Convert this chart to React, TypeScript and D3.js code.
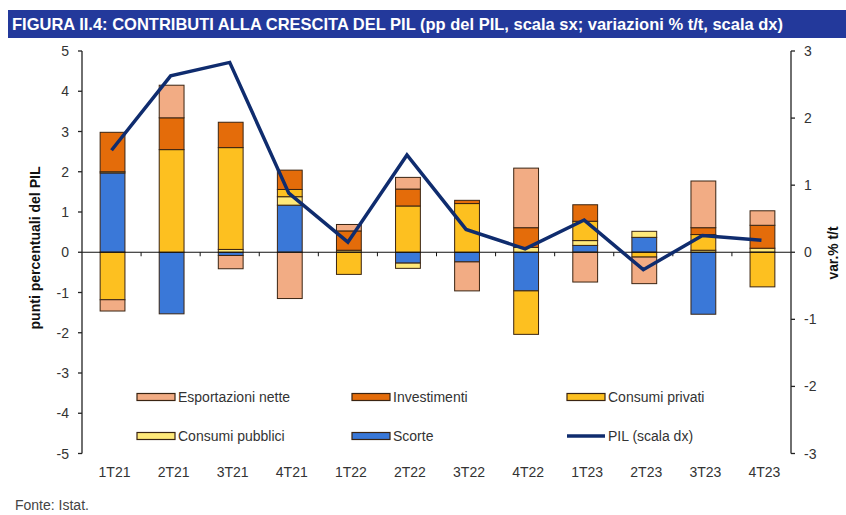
import React from "react";
import * as d3 from "d3";

const categories = ["1T21", "2T21", "3T21", "4T21", "1T22", "2T22", "3T22", "4T22", "1T23", "2T23", "3T23", "4T23"];
const scorte = [1.97, -1.53, -0.08, 1.17, 0.0, -0.27, -0.24, -0.96, 0.17, 0.37, -1.54, 0.0];
const consumiPubblici = [0.03, 0.0, 0.07, 0.21, 0.05, -0.13, 0.0, 0.12, 0.12, 0.15, 0.05, 0.1];
const consumiPrivati = [-1.18, 2.55, 2.53, 0.18, -0.55, 1.15, 1.21, -1.08, 0.48, -0.12, 0.39, -0.86];
const investimenti = [0.98, 0.79, 0.63, 0.48, 0.48, 0.42, 0.08, 0.49, 0.41, 0.0, 0.17, 0.57];
const esportazioniNette = [-0.28, 0.81, -0.33, -1.15, 0.16, 0.29, -0.72, 1.48, -0.74, -0.66, 1.16, 0.36];
const pil = [1.52, 2.63, 2.83, 0.88, 0.15, 1.45, 0.34, 0.05, 0.48, -0.26, 0.25, 0.18];
const leftTicks = [5, 4, 3, 2, 1, 0, -1, -2, -3, -4, -5];
const rightTicks = [3, 2, 1, 0, -1, -2, -3];

const seriesKeys = ["scorte", "pubblici", "privati", "investimenti", "esportazioni"];
const seriesLabels: Record<string, string> = {
  esportazioni: "Esportazioni nette",
  investimenti: "Investimenti",
  privati: "Consumi privati",
  pubblici: "Consumi pubblici",
  scorte: "Scorte",
};
const colors: Record<string, string> = {
  esportazioni: "#F2AC84",
  investimenti: "#E46C0A",
  privati: "#FDC020",
  pubblici: "#FFE97A",
  scorte: "#3A78D8",
};
const pilColor = "#0F2C6E";

const rows = categories.map((c, i) => ({
  cat: c,
  scorte: scorte[i],
  pubblici: consumiPubblici[i],
  privati: consumiPrivati[i],
  investimenti: investimenti[i],
  esportazioni: esportazioniNette[i],
}));

export default function App() {
  const W = 846, H = 515;
  const left = 82, right = 791, top = 51, bottom = 453.5;
  const x = d3.scaleBand<string>().domain(categories).range([left, right]).padding(0);
  const yL = d3.scaleLinear().domain([-5, 5]).range([bottom, top]);
  const yR = d3.scaleLinear().domain([-3, 3]).range([bottom, top]);
  const bw = x.bandwidth();
  const barW = bw * 0.42;
  const stack = d3.stack<any>().keys(seriesKeys).offset(d3.stackOffsetDiverging);
  const stacked = stack(rows as any);
  const line = d3
    .line<number>()
    .x((_, i) => (x(categories[i]) as number) + bw / 2)
    .y((d) => yR(d));
  const y0 = yL(0);
  const font = "'Liberation Sans', Arial, sans-serif";
  const narrow = "'Liberation Sans Narrow', 'Arial Narrow', 'Liberation Sans', Arial, sans-serif";
  const textColor = "#333";

  const legendItems = [
    { key: "esportazioni", col: 0, row: 0 },
    { key: "investimenti", col: 1, row: 0 },
    { key: "privati", col: 2, row: 0 },
    { key: "pubblici", col: 0, row: 1 },
    { key: "scorte", col: 1, row: 1 },
    { key: "pil", col: 2, row: 1 },
  ];
  const legendX = [137, 352, 567];
  const legendY = [397, 436];

  return (
    <svg width={W} height={H} style={{ position: "absolute", left: 0, top: 0, background: "#fff" }}>
      {/* title bar */}
      <rect x={8} y={10} width={W - 8} height={28} fill="#23399B" />
      <text
        x={12}
        y={30}
        fill="#fff"
        fontFamily={narrow}
        fontWeight="bold"
        fontSize={17}
        textLength={771}
        lengthAdjust="spacingAndGlyphs"
      >
        FIGURA II.4: CONTRIBUTI ALLA CRESCITA DEL PIL (pp del PIL, scala sx; variazioni % t/t, scala dx)
      </text>

      {/* bars */}
      {stacked.map((s) => (
        <g key={s.key}>
          {s.map((d, i) => {
            const v = d[1] - d[0];
            if (Math.abs(v) < 1e-9) return null;
            const yt = yL(Math.max(d[0], d[1]));
            const yb = yL(Math.min(d[0], d[1]));
            return (
              <rect
                key={i}
                x={(x(categories[i]) as number) + bw / 2 - barW / 2 + 1}
                y={yt}
                width={barW}
                height={yb - yt}
                fill={colors[s.key]}
                stroke="#3a2412"
                strokeWidth={1}
              />
            );
          })}
        </g>
      ))}

      {/* zero line */}
      <line x1={left} x2={right} y1={y0} y2={y0} stroke="#111" strokeWidth={1.2} />
      {categories.slice(1).map((c) => (
        <line key={c} x1={x(c) as number} x2={x(c) as number} y1={y0} y2={y0 + 4} stroke="#111" strokeWidth={1} />
      ))}

      {/* PIL line */}
      <path d={line(pil) || ""} fill="none" stroke={pilColor} strokeWidth={3.5} strokeLinejoin="miter" />

      {/* left axis */}
      <line x1={left} x2={left} y1={top} y2={bottom} stroke="#222" strokeWidth={1.3} />
      {leftTicks.map((t) => (
        <g key={t}>
          <line x1={left - 4} x2={left} y1={yL(t)} y2={yL(t)} stroke="#222" strokeWidth={1.3} />
          <text x={69} y={yL(t)} dy="0.36em" textAnchor="end" fontFamily={font} fontSize={14} fill={textColor}>
            {t}
          </text>
        </g>
      ))}

      {/* right axis */}
      <line x1={right} x2={right} y1={top} y2={bottom} stroke="#222" strokeWidth={1.3} />
      {rightTicks.map((t) => (
        <g key={t}>
          <line x1={right} x2={right + 4} y1={yR(t)} y2={yR(t)} stroke="#222" strokeWidth={1.3} />
          <text x={804} y={yR(t)} dy="0.36em" textAnchor="start" fontFamily={font} fontSize={14} fill={textColor}>
            {t}
          </text>
        </g>
      ))}

      {/* axis titles */}
      <text
        transform={`translate(40,248) rotate(-90)`}
        textAnchor="middle"
        fontFamily={narrow}
        fontWeight="bold"
        fontSize={14}
        fill="#111"
        textLength={163}
        lengthAdjust="spacingAndGlyphs"
      >
        punti percentuali del PIL
      </text>
      <text
        transform={`translate(838,253) rotate(-90)`}
        textAnchor="middle"
        fontFamily={narrow}
        fontWeight="bold"
        fontSize={14}
        fill="#111"
        textLength={53}
        lengthAdjust="spacingAndGlyphs"
      >
        var.% t/t
      </text>

      {/* x labels */}
      {categories.map((c) => (
        <text
          key={c}
          x={(x(c) as number) + bw / 2 + 3}
          y={477}
          textAnchor="middle"
          fontFamily={font}
          fontSize={14}
          fill={textColor}
        >
          {c}
        </text>
      ))}

      {/* legend */}
      {legendItems.map((it) => {
        const lx = legendX[it.col];
        const ly = legendY[it.row];
        return (
          <g key={it.key}>
            {it.key === "pil" ? (
              <line x1={lx} x2={lx + 38} y1={ly} y2={ly} stroke={pilColor} strokeWidth={3.5} />
            ) : (
              <rect x={lx} y={ly - 3.5} width={38} height={7} fill={colors[it.key]} stroke="#3a2412" strokeWidth={1.2} />
            )}
            <text x={lx + 41} y={ly} dy="0.36em" fontFamily={font} fontSize={14} fill={textColor}>
              {it.key === "pil" ? "PIL (scala dx)" : seriesLabels[it.key]}
            </text>
          </g>
        );
      })}

      <text x={15} y={510} fontFamily={font} fontSize={14} fill="#444">
        Fonte: Istat.
      </text>
    </svg>
  );
}
